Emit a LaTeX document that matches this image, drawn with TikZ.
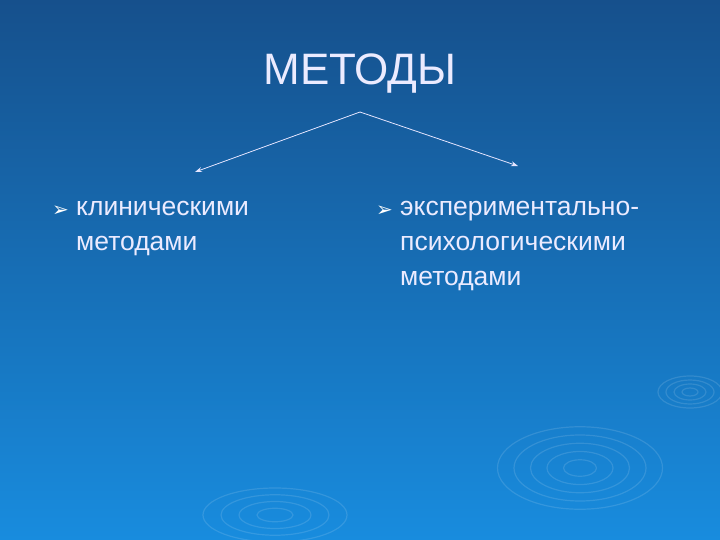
\documentclass[tikz,border=0pt]{standalone}
\usepackage{fontspec}
\usetikzlibrary{arrows.meta}
\setmainfont{Liberation Sans}
\newfontfamily\symfont{DejaVu Sans}
\begin{document}
\begin{tikzpicture}[x=1pt,y=-1pt,
  txt/.style={text=white!92!blue,font=\fontsize{26.5}{30}\selectfont,anchor=base west,inner sep=0},
  bul/.style={text=white,font=\symfont\fontsize{20}{22}\selectfont,anchor=base west,inner sep=0},
  arr/.style={draw=white!90!blue,line width=0.8pt,-{Stealth[length=7pt,width=5pt]}},
  rip/.style={draw=white,opacity=0.12,line width=1.2pt}]
\shade[top color={rgb,255:red,22;green,80;blue,140},bottom color={rgb,255:red,24;green,140;blue,222}] (0,0) rectangle (720,540);
\useasboundingbox (0,0) rectangle (720,540);
% ripples
\foreach \r in {15,30,45,60,75}{\draw[rip] (580,468) ellipse ({\r*1.1} and {\r*0.55});}
\foreach \r in {8,16,24,32}{\draw[rip] (690,392) ellipse ({\r} and {\r*0.5});}
\foreach \r in {15,30,45,60}{\draw[rip] (275,515) ellipse ({\r*1.2} and {\r*0.45});}
\node[text=white!92!blue,font=\fontsize{44}{50}\selectfont,anchor=base,inner sep=0] (title) at (360,85) {МЕТОДЫ};
\coordinate (top) at (360,112);
\coordinate (l) at (195,172);
\coordinate (r) at (518,166);
\draw[arr] (top) -- (l);
\draw[arr] (top) -- (r);
\node[bul] (b1) at (52,216) {➢};
\node[txt] (t1) at (76,215) {клиническими};
\node[txt] (t2) at (76,250) {методами};
\node[bul] (b2) at (376,216) {➢};
\node[txt] (t3) at (400,215) {экспериментально-};
\node[txt] (t4) at (400,250) {психологическими};
\node[txt] (t5) at (400,285) {методами};
\end{tikzpicture}
\end{document}
